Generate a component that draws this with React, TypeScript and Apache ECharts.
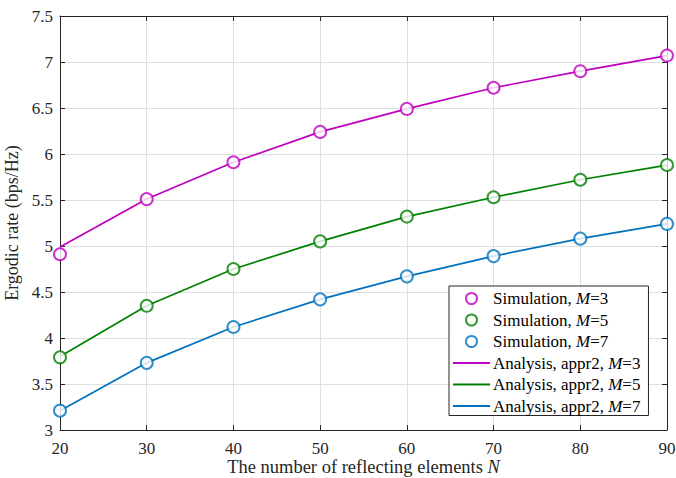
import React, { useEffect, useRef } from "react";
import * as echarts from "echarts";

const N = [20, 30, 40, 50, 60, 70, 80, 90];
const simM3 = [4.91, 5.51, 5.91, 6.24, 6.49, 6.72, 6.9, 7.07];
const simM5 = [3.79, 4.35, 4.75, 5.05, 5.32, 5.53, 5.72, 5.88];
const simM7 = [3.21, 3.73, 4.12, 4.42, 4.67, 4.89, 5.08, 5.24];
const anaM3 = [4.99, 5.51, 5.91, 6.24, 6.49, 6.72, 6.9, 7.07];
const anaM5 = [3.8, 4.35, 4.75, 5.05, 5.32, 5.53, 5.72, 5.88];
const anaM7 = [3.21, 3.73, 4.12, 4.42, 4.67, 4.89, 5.08, 5.24];

const C3 = "#BF00BF";
const C5 = "#008000";
const C7 = "#0072BD";
const FONT = "Liberation Serif";
const AX = "#262626";

const pairs = (ys: number[]) => N.map((x, i) => [x, ys[i]]);

export default function App() {
  const ref = useRef<HTMLDivElement>(null);
  useEffect(() => {
    const chart = echarts.init(ref.current!, null, { renderer: "svg" });
    const names = [
      "Simulation, {i|M}=3",
      "Simulation, {i|M}=5",
      "Simulation, {i|M}=7",
      "Analysis, appr2, {i|M}=3",
      "Analysis, appr2, {i|M}=5",
      "Analysis, appr2, {i|M}=7",
    ];
    const sim = (name: string, d: number[], c: string) => ({
      type: "scatter",
      name,
      data: pairs(d),
      symbol: "emptyCircle",
      symbolSize: 12,
      itemStyle: { color: c, borderColor: c, borderWidth: 1.7 },
      z: 3,
    });
    const ana = (name: string, d: number[], c: string) => ({
      type: "line",
      name,
      data: pairs(d),
      symbol: "none",
      lineStyle: { color: c, width: 1.7 },
      itemStyle: { color: c },
      z: 2,
    });
    const tick = { show: true, inside: true, length: 5, lineStyle: { color: AX } };
    const lbl = (v: number) => `{t|${v}}`;
    const richT = { t: { fontFamily: FONT, fontSize: 17, color: AX } };
    chart.setOption({
      animation: false,
      backgroundColor: "#fff",
      textStyle: { fontFamily: FONT },
      grid: { left: 60, right: 9, top: 16, bottom: 48, containLabel: false, outerBoundsMode: "none" },
      legend: {
        orient: "vertical",
        left: 449,
        top: 286,
        padding: [4, 8, 1, 3],
        itemWidth: 37,
        itemHeight: 11,
        itemGap: 4.5,
        borderColor: AX,
        borderWidth: 1,
        backgroundColor: "#fff",
        data: names.map((n, i) => (i < 3 ? { name: n } : { name: n, itemStyle: { opacity: 0 } })),
        formatter: (n: string) => n.replace(/^([^{]*)/, "{r|$1}").replace(/\}(=\d)$/, "}{r|$1}"),
        textStyle: {
          fontFamily: FONT,
          fontSize: 17,
          color: "#000",
          padding: [0, 0, 0, -2],
          rich: {
            r: { fontFamily: FONT, fontSize: 17, color: "#000" },
            i: { fontFamily: FONT, fontSize: 17, fontStyle: "italic", color: "#000" },
          },
        },
      },
      xAxis: [
        {
          type: "value",
          min: 20,
          max: 90,
          interval: 10,
          name: "{r|The number of reflecting elements }{i|N}",
          nameLocation: "middle",
          nameGap: 27,
          nameMoveOverlap: false,
          nameTextStyle: {
            fontFamily: FONT,
            fontSize: 18.5,
            lineHeight: 20,
            color: AX,
            rich: {
              r: { fontFamily: FONT, fontSize: 18.5, lineHeight: 20, color: AX },
              i: { fontFamily: FONT, fontSize: 18.5, lineHeight: 20, fontStyle: "italic", color: AX },
            },
          },
          axisLine: { show: true, lineStyle: { color: AX, width: 1 } },
          axisTick: tick,
          axisLabel: { fontFamily: FONT, fontSize: 17, color: AX, margin: 10, formatter: lbl, rich: richT },
          splitLine: { show: true, lineStyle: { color: "#dfdfdf", width: 1 } },
        },
        {
          type: "value",
          position: "top",
          min: 20,
          max: 90,
          interval: 10,
          axisLine: { show: true, lineStyle: { color: AX, width: 1 } },
          axisTick: tick,
          axisLabel: { show: false },
          splitLine: { show: false },
        },
      ],
      yAxis: [
        {
          type: "value",
          min: 3,
          max: 7.5,
          interval: 0.5,
          name: "{r|Ergodic rate (bps/Hz)}",
          nameLocation: "middle",
          nameGap: 39,
          nameMoveOverlap: false,
          nameTextStyle: {
            fontFamily: FONT,
            fontSize: 18,
            color: AX,
            rich: { r: { fontFamily: FONT, fontSize: 18, color: AX } },
          },
          axisLine: { show: true, lineStyle: { color: AX, width: 1 } },
          axisTick: tick,
          axisLabel: { fontFamily: FONT, fontSize: 17, color: AX, margin: 7, formatter: lbl, rich: richT },
          splitLine: { show: true, lineStyle: { color: "#dfdfdf", width: 1 } },
        },
        {
          type: "value",
          position: "right",
          min: 3,
          max: 7.5,
          interval: 0.5,
          axisLine: { show: true, lineStyle: { color: AX, width: 1 } },
          axisTick: tick,
          axisLabel: { show: false },
          splitLine: { show: false },
        },
      ],
      series: [
        sim(names[0], simM3, C3),
        sim(names[1], simM5, C5),
        sim(names[2], simM7, C7),
        ana(names[3], anaM3, C3),
        ana(names[4], anaM5, C5),
        ana(names[5], anaM7, C7),
      ],
    });
    return () => chart.dispose();
  }, []);
  return (
    <div
      ref={ref}
      style={{ position: "absolute", left: 0, top: 0, width: 676, height: 478 }}
    />
  );
}
